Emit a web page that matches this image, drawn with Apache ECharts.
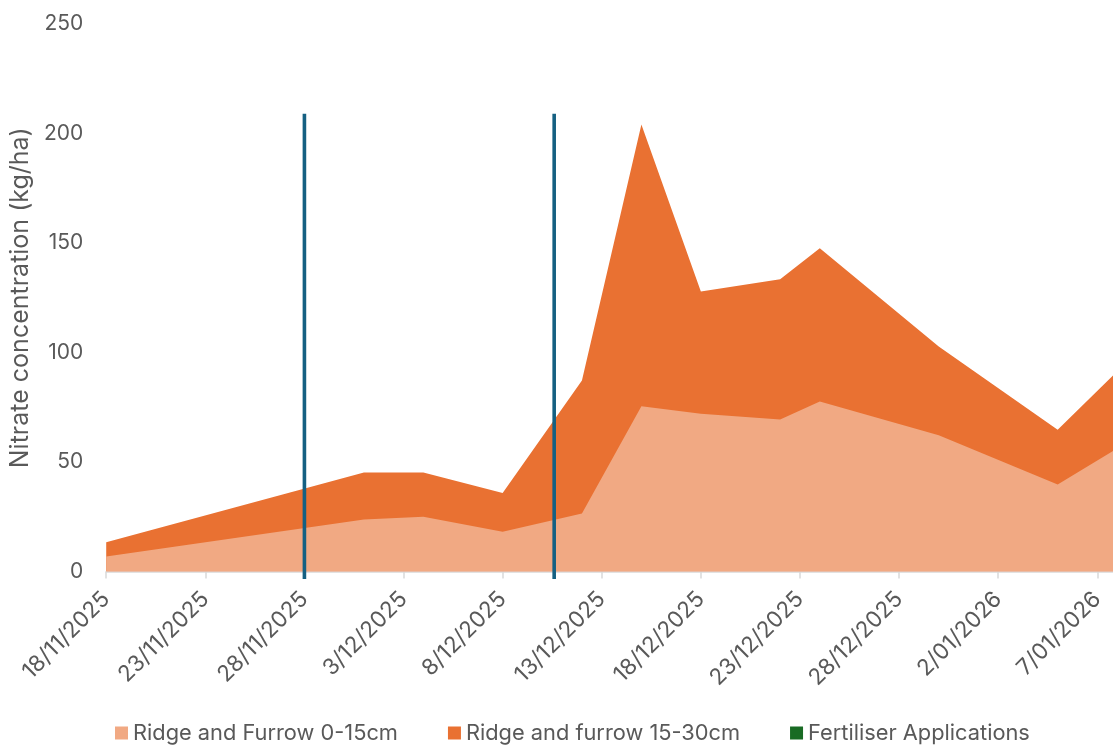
<!DOCTYPE html>
<html>
<head>
<meta charset="utf-8">
<script src="https://cdn.jsdelivr.net/npm/echarts@6/dist/echarts.min.js"></script>
<style>
html,body{margin:0;padding:0;background:#fff;}
#chart{width:1113px;height:747px;}
</style>
</head>
<body>
<div id="chart"></div>
<script>
// ---- data ----
const sampleDates = ['18/11/2025','1/12/2025','4/12/2025','8/12/2025','12/12/2025','15/12/2025','18/12/2025','22/12/2025','24/12/2025','30/12/2025','5/01/2026','8/01/2026'];
const ridgeFurrow0_15 = [6.8, 23.8, 25.0, 18.1, 26.5, 75.4, 72.0, 69.4, 77.6, 62.2, 39.7, 56.2];
const ridgeFurrow15_30 = [6.6, 21.4, 20.2, 17.8, 60.7, 128.7, 55.9, 64.1, 70.0, 40.5, 25.0, 35.2];
const fertiliserDates = ['28/11/2025 00:00', '10/12/2025 14:24'];
const fertiliserHeight = [209, 209];
const tickLabels = ['18/11/2025','23/11/2025','28/11/2025','3/12/2025','8/12/2025','13/12/2025','18/12/2025','23/12/2025','28/12/2025','2/01/2026','7/01/2026'];
const axisStart = '18/11/2025 00:00';
const axisEnd = '7/01/2026 19:00';
const seriesNames = ['Ridge and Furrow 0-15cm', 'Ridge and furrow 15-30cm', 'Fertiliser Applications'];

// ---- helpers ----
function parseDate(s) {
  const [d, t] = s.split(' ');
  const [dd, mm, yy] = d.split('/').map(Number);
  let h = 0, mi = 0;
  if (t) { [h, mi] = t.split(':').map(Number); }
  return Date.UTC(yy, mm - 1, dd, h, mi);
}
const t0 = parseDate(axisStart);
const DAY = 86400000;
const toDay = s => (parseDate(s) - t0) / DAY;
const dayToLabel = {};
tickLabels.forEach(l => { dayToLabel[Math.round(toDay(l))] = l; });
const tickDays = tickLabels.map(l => Math.round(toDay(l)));
// stacked top of the 15-30cm layer (sum of both layers)
const stackedTop = ridgeFurrow0_15.map((v, i) => v + ridgeFurrow15_30[i]);

const FONT = 'Inter';
const TXT = '#595959';

const chart = echarts.init(document.getElementById('chart'), null, {renderer: 'canvas'});
chart.setOption({
  animation: false,
  backgroundColor: '#ffffff',
  textStyle: {fontFamily: FONT},
  grid: {left: 105.7, right: 0, top: 24, bottom: 175.5, containLabel: false},
  legend: {
    left: 110, top: 717,
    icon: 'rect', itemWidth: 13, itemHeight: 13, itemGap: 50,
    textStyle: {fontFamily: FONT, fontSize: 21.8, color: TXT},
    data: seriesNames
  },
  xAxis: {
    type: 'value',
    min: 0, max: toDay(axisEnd),
    interval: 5,
    axisLine: {show: true, lineStyle: {color: '#d9d9d9', width: 1.5}},
    axisTick: {show: true, length: 7, lineStyle: {color: '#d9d9d9', width: 1.5}, customValues: tickDays},
    axisLabel: {
      customValues: tickDays,
      rotate: 45, margin: 24,
      fontFamily: FONT, fontSize: 22.5, color: TXT,
      formatter: v => dayToLabel[Math.round(v)] || ''
    },
    splitLine: {show: false}
  },
  yAxis: {
    type: 'value', min: 0, max: 250, interval: 50,
    name: 'Nitrate concentration (kg/ha)',
    nameLocation: 'middle', nameRotate: 90, nameGap: 72,
    nameTextStyle: {fontFamily: FONT, fontSize: 25, color: TXT},
    axisLine: {show: false}, axisTick: {show: false},
    axisLabel: {margin: 23, fontFamily: FONT, fontSize: 21, color: TXT},
    splitLine: {show: false}
  },
  series: [
    {
      name: seriesNames[1], type: 'line',
      data: sampleDates.map((d, i) => [toDay(d), stackedTop[i]]),
      symbol: 'none', lineStyle: {width: 0}, itemStyle: {color: '#E97132'},
      areaStyle: {color: '#E97132', opacity: 1, origin: 'start'}, clip: true, z: 2
    },
    {
      name: seriesNames[0], type: 'line',
      data: sampleDates.map((d, i) => [toDay(d), ridgeFurrow0_15[i]]),
      symbol: 'none', lineStyle: {width: 0}, itemStyle: {color: '#F1A983'},
      areaStyle: {color: '#F1A983', opacity: 1, origin: 'start'}, clip: true, z: 3
    },
    {
      name: seriesNames[2], type: 'custom',
      itemStyle: {color: '#196B24'},
      data: fertiliserDates.map((d, i) => [toDay(d), fertiliserHeight[i]]),
      encode: {x: 0, y: 1},
      renderItem: function (params, api) {
        const p0 = api.coord([api.value(0), 0]);
        const p1 = api.coord([api.value(0), api.value(1)]);
        return {
          type: 'line',
          shape: {x1: p0[0], y1: p0[1] + 7.5, x2: p1[0], y2: p1[1]},
          style: {stroke: '#156082', lineWidth: 3.6}
        };
      },
      z: 5
    }
  ]
});
</script>
</body>
</html>
